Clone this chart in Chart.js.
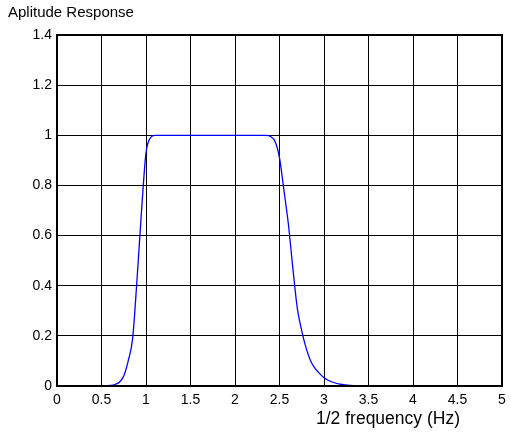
<!DOCTYPE html>
<html>
<head>
<meta charset="utf-8">
<script src="https://cdn.jsdelivr.net/npm/chart.js@4/dist/chart.umd.min.js"></script>
<style>
    html, body { margin: 0; padding: 0; background: #fff; }
    #chart { display: block; }
</style>
</head>
<body>
<canvas id="chart" width="511" height="432"></canvas>
<script>
// valores
const freq = [0, 0.5, 0.55, 0.6, 0.65, 0.7, 0.75, 0.8, 0.85, 0.9, 0.95, 1.0, 1.05, 1.1,
    1.5, 2.0, 2.3, 2.35, 2.4, 2.45, 2.5, 2.55, 2.6, 2.65, 2.7, 2.75, 2.8, 2.85, 2.9, 2.95,
    3.0, 3.1, 3.2, 3.3, 3.4, 4.0, 5.0];
const amplitude = [0, 0, 0, 0.002, 0.006, 0.015, 0.04, 0.10, 0.19, 0.43, 0.70, 0.93, 0.99, 1.0,
    1.0, 1.0, 1.0, 1.0, 0.995, 0.975, 0.91, 0.78, 0.645, 0.47, 0.31, 0.22, 0.15, 0.10, 0.07, 0.05,
    0.033, 0.015, 0.006, 0.002, 0, 0, 0];

const xTicks = [0, 0.5, 1, 1.5, 2, 2.5, 3, 3.5, 4, 4.5, 5];
const yTicks = [0, 0.2, 0.4, 0.6, 0.8, 1, 1.2, 1.4];

const titleText = 'Aplitude Response';
const xLabelText = '1/2 frequency (Hz)';

const FONT = '"Liberation Sans", Arial, sans-serif';

// formato estilo matlab: 1 em vez de 1.0
const fmt = (v) => String(Math.round(v * 10) / 10);

// moldura e textos extras
const framePlugin = {
    id: 'frame',
    afterDraw(chart) {
        const { ctx, chartArea } = chart;
        ctx.save();
        ctx.strokeStyle = '#000';
        ctx.lineWidth = 2;
        ctx.strokeRect(chartArea.left, chartArea.top, chartArea.right - chartArea.left, chartArea.bottom - chartArea.top);

        ctx.fillStyle = '#000';
        ctx.textBaseline = 'middle';
        ctx.textAlign = 'left';
        ctx.font = '15px ' + FONT;
        ctx.fillText(titleText, 8, 13);

        ctx.textAlign = 'center';
        ctx.font = '17.5px ' + FONT;
        ctx.fillText(xLabelText, 388, 419);
        ctx.restore();
    }
};

const ctx = document.getElementById('chart').getContext('2d');
new Chart(ctx, {
    type: 'line',
    data: {
        datasets: [{
            data: freq.map((f, i) => ({ x: f, y: amplitude[i] })),
            borderColor: '#0000ff',
            borderWidth: 1.3,
            pointRadius: 0,
            fill: false,
            cubicInterpolationMode: 'monotone'
        }]
    },
    options: {
        responsive: false,
        animation: false,
        layout: { padding: { top: 35, right: 9, left: 0, bottom: 0 } },
        plugins: {
            legend: { display: false },
            title: { display: false },
            tooltip: { enabled: false }
        },
        scales: {
            x: {
                type: 'linear',
                min: 0,
                max: 5,
                afterFit: (scale) => {
                    scale.height = 46;
                    scale.paddingLeft = 0;
                    scale.paddingRight = 0;
                },
                afterBuildTicks: (scale) => { scale.ticks = xTicks.map(v => ({ value: v })); },
                grid: { color: '#000', lineWidth: 1, drawTicks: false },
                border: { color: '#000', width: 2 },
                ticks: {
                    color: '#000',
                    padding: 6,
                    font: { family: FONT, size: 14 },
                    maxRotation: 0,
                    autoSkip: false,
                    callback: (v) => fmt(v)
                }
            },
            y: {
                type: 'linear',
                min: 0,
                max: 1.4,
                afterFit: (scale) => {
                    scale.width = 57;
                    scale.paddingTop = 0;
                    scale.paddingBottom = 0;
                },
                afterBuildTicks: (scale) => { scale.ticks = yTicks.map(v => ({ value: v })); },
                grid: { color: '#000', lineWidth: 1, drawTicks: false },
                border: { color: '#000', width: 2 },
                ticks: {
                    color: '#000',
                    padding: 5,
                    font: { family: FONT, size: 14 },
                    autoSkip: false,
                    callback: (v) => fmt(v)
                }
            }
        }
    },
    plugins: [framePlugin]
});
</script>
</body>
</html>
